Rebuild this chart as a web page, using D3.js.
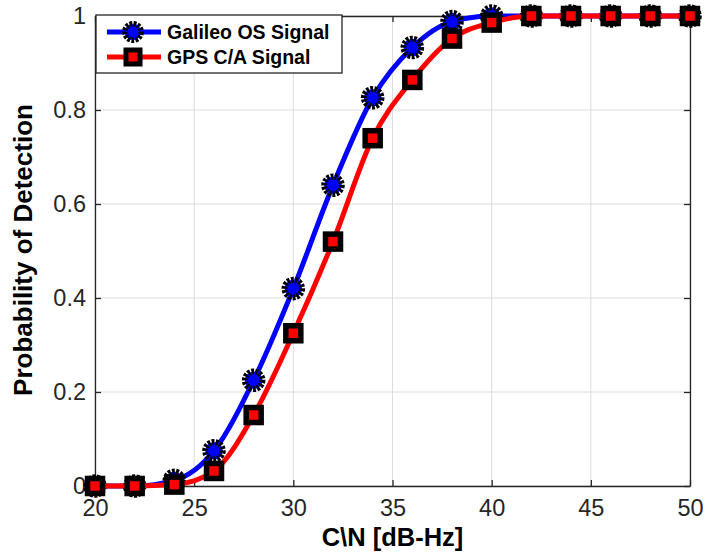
<!DOCTYPE html>
<html><head><meta charset="utf-8">
<script src="https://cdn.jsdelivr.net/npm/d3@7"></script>
<style>body{margin:0;background:#fff;} svg{display:block;}</style>
</head><body>
<script>
const cn = [20,22,24,26,28,30,32,34,36,38,40,42,44,46,48,50];
const galileo = [0,0,0.012,0.075,0.225,0.42,0.64,0.826,0.933,0.988,1,1,1,1,1,1];
const gps = [0,0,0.003,0.032,0.151,0.325,0.52,0.74,0.864,0.952,0.986,1,1,1,1,1];
const xTicks = [20,25,30,35,40,45,50];
const yTicks = [0,0.2,0.4,0.6,0.8,1];
const seriesNames = ["Galileo OS Signal","GPS C/A Signal"];

const W=705,H=553;
const m={l:95,r:15,t:16,b:67};
const svg=d3.select("body").append("svg").attr("width",W).attr("height",H);
const x=d3.scaleLinear().domain([20,50]).range([m.l,W-m.r]);
const y=d3.scaleLinear().domain([0,1]).range([H-m.b,m.t]);
const axCol="#262626";
const font="'Liberation Sans', Arial, sans-serif";

// grid
svg.append("g").selectAll("line.gx").data(xTicks).join("line")
  .attr("x1",d=>x(d)).attr("x2",d=>x(d)).attr("y1",y(0)).attr("y2",y(1))
  .attr("stroke","#dcdcdc").attr("stroke-width",1);
svg.append("g").selectAll("line.gy").data(yTicks).join("line")
  .attr("x1",x(20)).attr("x2",x(50)).attr("y1",d=>y(d)).attr("y2",d=>y(d))
  .attr("stroke","#dcdcdc").attr("stroke-width",1);

// axes
const xa=svg.append("g").attr("transform",`translate(0,${y(0)})`)
  .call(d3.axisBottom(x).tickValues(xTicks).tickSizeInner(-6).tickSizeOuter(0).tickPadding(13));
const ya=svg.append("g").attr("transform",`translate(${x(20)},0)`)
  .call(d3.axisLeft(y).tickValues(yTicks).tickSizeInner(-6).tickSizeOuter(0).tickPadding(9).tickFormat(d=>d3.format("~g")(d)));
const xt=svg.append("g").attr("transform",`translate(0,${y(1)})`)
  .call(d3.axisTop(x).tickValues(xTicks).tickSizeInner(-6).tickSizeOuter(0).tickFormat(""));
const yr=svg.append("g").attr("transform",`translate(${x(50)},0)`)
  .call(d3.axisRight(y).tickValues(yTicks).tickSizeInner(-6).tickSizeOuter(0).tickFormat(""));
[xa,ya,xt,yr].forEach(g=>{
  g.selectAll("path,line").attr("stroke",axCol).attr("stroke-width",1.3);
  g.selectAll("text").attr("fill",axCol).style("font-family",font).style("font-size","23.5px");
});

// lines
const line=d3.line().x(d=>x(d[0])).y(d=>y(d[1])).curve(d3.curveMonotoneX);
const gData=cn.map((c,i)=>[c,galileo[i]]);
const pData=cn.map((c,i)=>[c,gps[i]]);
svg.append("path").datum(gData).attr("d",line).attr("fill","none").attr("stroke","#0000ff").attr("stroke-width",5);
svg.append("g").selectAll("circle").data(gData).join("circle")
  .attr("cx",d=>x(d[0])).attr("cy",d=>y(d[1])).attr("r",8.8)
  .attr("fill","#0000ff").attr("stroke","#000").attr("stroke-width",6).attr("stroke-dasharray","2.6,1.3");
svg.append("path").datum(pData).attr("d",line).attr("fill","none").attr("stroke","#ff0000").attr("stroke-width",5);
svg.append("g").selectAll("rect").data(pData).join("rect")
  .attr("x",d=>x(d[0])-7.5).attr("y",d=>y(d[1])-7.5).attr("width",15).attr("height",15)
  .attr("fill","#ff0000").attr("stroke","#000").attr("stroke-width",5.5);

// axis labels
svg.append("text").attr("x",(x(20)+x(50))/2).attr("y",546).attr("text-anchor","middle")
  .style("font-family",font).style("font-size","25.5px").style("font-weight","bold").attr("fill","#000").text("C\\N [dB-Hz]");
svg.append("text").attr("transform",`translate(32,${(y(0)+y(1))/2-1}) rotate(-90)`).attr("text-anchor","middle")
  .style("font-family",font).style("font-size","26px").style("font-weight","bold").attr("fill","#000").text("Probability of Detection");

// legend
const lg=svg.append("g");
lg.append("rect").attr("x",x(20)+1).attr("y",y(1)-1).attr("width",246).attr("height",58)
  .attr("fill","#fff").attr("stroke",axCol).attr("stroke-width",1.3);
const cols=["#0000ff","#ff0000"];
seriesNames.forEach((n,i)=>{
  const yy=32+i*25;
  lg.append("line").attr("x1",107).attr("x2",161).attr("y1",yy).attr("y2",yy).attr("stroke",cols[i]).attr("stroke-width",5);
  if(i===0) lg.append("circle").attr("cx",133).attr("cy",yy).attr("r",8.2).attr("fill",cols[i]).attr("stroke","#000").attr("stroke-width",5.5).attr("stroke-dasharray","2.6,1.3");
  else lg.append("rect").attr("x",126).attr("y",yy-7).attr("width",14).attr("height",14).attr("fill",cols[i]).attr("stroke","#000").attr("stroke-width",5);
  lg.append("text").attr("x",167).attr("y",yy+7).style("font-family",font).style("font-size","19.5px").style("font-weight","bold").attr("fill","#000").text(n);
});
</script>
</body></html>
